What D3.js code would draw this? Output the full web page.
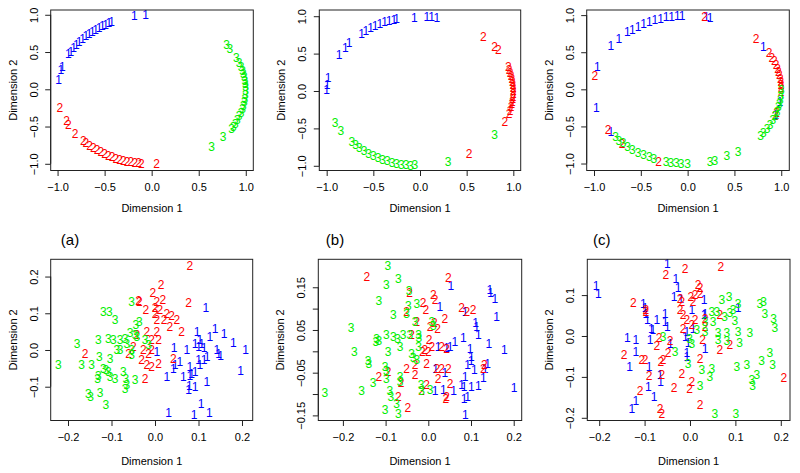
<!DOCTYPE html>
<html><head><meta charset="utf-8">
<script src="https://d3js.org/d3.v7.min.js"></script>
<style>body{margin:0;background:#fff}svg{display:block}text{font-family:"Liberation Sans",Arial,Helvetica,sans-serif}</style>
</head><body><svg id="c" width="800" height="473"></svg>
<script>
// ---------- data ----------
const classLabels = ["1","2","3"];
const classColors = ["#0000ff","#ff0000","#00ee00"];
const panelLetters = ["(a)","(b)","(c)"];
const topTicks = [-1,-0.5,0,0.5,1];
const bottomXTicks = [-0.2,-0.1,0,0.1,0.2];
const dYTicks = [-0.1,0,0.1,0.2];
const eYTicks = [-0.15,-0.10,-0.05,0,0.05,0.10,0.15];
const eYLabelled = [-0.15,-0.05,0.05,0.15];
const fYTicks = [-0.2,-0.1,0,0.1];

const a1 = [[-0.99,0.125],[-0.964,0.26],[-0.95,0.31],[-0.886,0.48],[-0.86,0.51],[-0.83,0.556],[-0.80,0.60],[-0.77,0.638],[-0.735,0.678],[-0.70,0.714],[-0.665,0.747],[-0.63,0.776],[-0.595,0.804],[-0.56,0.828],[-0.525,0.851],[-0.49,0.872],[-0.455,0.89],[-0.425,0.905],[-0.185,0.983],[-0.064,0.998]];
const a2 = [[-0.975,-0.25],[-0.904,-0.42],[-0.886,-0.47],[-0.815,-0.59],[-0.727,-0.69],[-0.70,-0.714],[-0.66,-0.751],[-0.62,-0.785],[-0.58,-0.815],[-0.54,-0.842],[-0.50,-0.866],[-0.46,-0.888],[-0.42,-0.908],[-0.38,-0.925],[-0.34,-0.94],[-0.30,-0.954],[-0.26,-0.966],[-0.22,-0.976],[-0.18,-0.984],[-0.14,-0.99],[-0.11,-0.994],[0.053,-0.999]];
const a3 = [[0.797,0.595],[0.83,0.54],[0.90,0.43],[0.93,0.36],[0.95,0.30],[0.965,0.25],[0.975,0.21],[0.985,0.17],[0.99,0.12],[0.995,0.08],[0.999,0.03],[0.999,-0.02],[0.995,-0.07],[0.99,-0.12],[0.985,-0.17],[0.975,-0.22],[0.965,-0.26],[0.95,-0.31],[0.93,-0.36],[0.91,-0.41],[0.89,-0.46],[0.867,-0.50],[0.85,-0.53],[0.76,-0.63],[0.638,-0.77]];

const b1 = [[-1.0,0.013],[-0.995,0.09],[-0.985,0.18],[-0.868,0.48],[-0.80,0.58],[-0.76,0.64],[-0.625,0.77],[-0.58,0.81],[-0.53,0.845],[-0.48,0.875],[-0.43,0.90],[-0.38,0.925],[-0.33,0.944],[-0.28,0.96],[-0.25,0.968],[-0.061,0.985],[0.072,0.99],[0.125,0.99],[0.18,0.98]];
const b2 = [[0.68,0.73],[0.80,0.59],[0.84,0.55],[0.946,0.33],[0.955,0.29],[0.965,0.25],[0.975,0.21],[0.985,0.17],[0.99,0.13],[0.995,0.09],[0.998,0.05],[0.999,0.01],[0.999,-0.03],[0.997,-0.07],[0.995,-0.10],[0.99,-0.14],[0.985,-0.17],[0.975,-0.21],[0.965,-0.26],[0.955,-0.30],[0.91,-0.41],[0.525,-0.84]];
const b3 = [[-0.91,-0.42],[-0.847,-0.53],[-0.73,-0.68],[-0.69,-0.72],[-0.65,-0.76],[-0.60,-0.80],[-0.55,-0.835],[-0.50,-0.865],[-0.45,-0.89],[-0.40,-0.915],[-0.35,-0.935],[-0.30,-0.953],[-0.25,-0.968],[-0.20,-0.98],[-0.15,-0.989],[-0.10,-0.995],[-0.054,-0.99],[0.30,-0.95],[0.80,-0.59]];

const c1 = [[-0.965,0.31],[-0.975,-0.243],[-0.82,0.59],[-0.735,0.68],[-0.645,0.776],[-0.59,0.81],[-0.53,0.85],[-0.47,0.88],[-0.41,0.91],[-0.35,0.937],[-0.29,0.957],[-0.23,0.973],[-0.17,0.985],[-0.11,0.994],[-0.06,0.998],[0.20,0.975],[0.24,0.97],[0.81,0.575],[-0.82,-0.57],[0.94,-0.34],[0.985,-0.17]];
const c2 = [[-0.99,0.18],[-0.85,-0.54],[-0.70,-0.737],[-0.31,-0.975],[0.18,0.98],[0.73,0.68],[0.87,0.49],[0.90,0.43],[0.925,0.38],[0.945,0.33],[0.96,0.28],[0.97,0.24],[0.98,0.20],[0.99,0.15],[0.995,0.10],[0.998,0.06],[0.999,0.02],[0.999,-0.03],[0.95,-0.32],[0.935,-0.36]];
const c3 = [[-0.77,-0.64],[-0.735,-0.69],[-0.69,-0.72],[-0.64,-0.77],[-0.59,-0.81],[-0.53,-0.85],[-0.47,-0.88],[-0.41,-0.91],[-0.36,-0.93],[-0.23,-0.973],[-0.18,-0.984],[-0.12,-0.993],[-0.07,-0.997],[0.0,-1.0],[0.24,-0.97],[0.29,-0.955],[0.42,-0.90],[0.54,-0.84],[0.78,-0.63],[0.81,-0.585],[0.85,-0.53],[0.88,-0.475],[0.91,-0.415],[0.935,-0.355],[0.955,-0.295],[0.97,-0.24],[0.98,-0.19],[0.99,-0.14],[0.995,-0.09],[1.0,-0.01]];

const d1 = [[0.117,0.116],[0.097,0.05],[0.138,0.059],[0.159,0.045],[0.126,0.035],[0.103,0.027],[0.092,0.018],[0.1,0.009],[0.113,0.007],[0.044,0.007],[0.073,0],[0.142,0],[0.146,-0.009],[0.151,-0.016],[0.18,0.02],[0.208,0],[0.057,-0.032],[0.046,-0.041],[0.042,-0.05],[0.027,-0.073],[0.065,-0.073],[0.08,-0.045],[0.084,-0.064],[0.092,-0.059],[0.08,-0.071],[0.1,-0.027],[0.103,-0.041],[0.113,-0.027],[0.12,-0.018],[0.119,-0.086],[0.197,-0.056],[0.079,-0.098],[0.077,-0.109],[0.092,-0.1],[0.106,-0.145],[0.031,-0.171],[0.09,-0.177],[0.125,-0.171],[0.004,-0.005],[0.107,0.018]];
const d2 = [[0.080,0.229],[0.014,0.177],[-0.005,0.156],[-0.038,0.134],[-0.036,0.131],[-0.021,0.109],[0.004,0.132],[0.018,0.136],[0.077,0.129],[0.0,0.116],[0.011,0.109],[0.027,0.1],[0.021,0.082],[0.038,0.093],[0.05,0.082],[0,0.1],[0.004,0.082],[0.034,0.064],[0.061,0.05],[-0.019,0.05],[-0.008,0.027],[0.008,0.027],[0.004,0.05],[-0.042,0.041],[-0.05,0.009],[-0.061,-0.009],[-0.027,0],[-0.031,-0.027],[-0.008,0],[-0.015,-0.009],[-0.008,-0.045],[-0.019,-0.041],[0.008,-0.036],[0.042,-0.023],[-0.023,-0.077],[-0.161,-0.011]];
const d3pts = [[-0.222,-0.041],[-0.179,0.016],[-0.169,-0.041],[-0.146,-0.041],[-0.13,0.027],[-0.128,-0.018],[-0.13,-0.071],[-0.132,-0.077],[-0.153,-0.12],[-0.148,-0.127],[-0.126,-0.116],[-0.113,-0.15],[-0.119,0.104],[-0.105,0.104],[-0.092,0.082],[-0.107,0.032],[-0.096,0.029],[-0.088,0],[-0.103,-0.023],[-0.119,-0.05],[-0.113,-0.054],[-0.107,-0.059],[-0.103,-0.073],[-0.092,-0.077],[-0.08,0.027],[-0.069,0.032],[-0.065,0.018],[-0.08,0.002],[-0.057,0.047],[-0.054,0.132],[-0.044,0.068],[-0.036,0.077],[-0.046,0.041],[-0.042,0.035],[-0.054,0],[-0.054,-0.014],[-0.073,-0.059],[-0.067,-0.077],[-0.065,-0.095],[-0.069,-0.104],[-0.046,-0.082],[-0.023,0.027],[-0.015,0.014]];

const e1 = [[0.053,0.153],[0.144,0.145],[0.146,0.137],[0.156,0.124],[0.027,0.105],[0.086,0.093],[0.16,0.081],[0.111,0.067],[0.113,0.058],[0.117,0.038],[0.082,0.033],[0.062,0.023],[0.051,0.011],[0.043,0.009],[0.023,0.011],[0.098,0.007],[0.142,0.017],[0.178,0.005],[0.101,-0.012],[0.1,-0.022],[0.092,-0.032],[0.108,-0.044],[0.139,-0.028],[0.133,-0.04],[0.129,-0.061],[0.117,-0.081],[0.101,-0.083],[0.084,-0.083],[0.086,-0.059],[0.078,-0.079],[0.039,-0.05],[0.017,-0.04],[0.016,-0.091],[0.035,-0.089],[0.059,-0.091],[0.084,-0.112],[0.092,-0.106],[0.201,-0.084],[0.087,-0.149]];
const e2 = [[-0.144,0.175],[0.047,0.173],[-0.044,0.137],[0.012,0.132],[0.016,0.12],[-0.012,0.114],[-0.006,0.098],[-0.051,0.093],[0.078,0.103],[0.09,0.094],[0.105,0.098],[0.039,0.077],[-0.027,0.069],[0.014,0.067],[0.004,0.058],[0.022,0.054],[-0.039,0.038],[0.002,0.028],[0.008,0.011],[-0.008,0.003],[-0.014,-0.001],[0,-0.001],[0.043,0.007],[0.031,0.011],[-0.004,-0.028],[-0.031,-0.032],[-0.051,-0.04],[0.02,-0.04],[0.031,-0.04],[0.047,-0.04],[-0.031,-0.055],[0.023,-0.063],[-0.064,-0.073],[-0.094,-0.048],[-0.116,-0.059],[-0.004,-0.079],[-0.016,-0.091],[0.051,-0.075],[0.043,-0.106],[0.041,-0.11],[-0.07,-0.106],[-0.048,-0.131],[0.131,-0.032],[0.129,-0.04]];
const e3 = [[-0.095,0.2],[-0.07,0.171],[-0.098,0.155],[-0.116,0.119],[-0.045,0.141],[-0.047,0.106],[-0.027,0.111],[-0.082,0.085],[-0.051,0.087],[-0.181,0.056],[-0.173,-0.001],[-0.141,-0.022],[-0.139,-0.028],[-0.121,0.03],[-0.123,0.023],[-0.116,0.026],[-0.098,0.038],[-0.094,-0.001],[-0.082,0.034],[-0.072,0.03],[-0.066,0.011],[-0.059,0.038],[-0.043,0.038],[-0.023,0.038],[-0.022,0.032],[-0.039,-0.005],[-0.035,-0.014],[-0.023,0.011],[-0.027,-0.02],[-0.031,0.069],[0.008,0.069],[0.012,0.061],[-0.101,-0.036],[-0.098,-0.045],[-0.098,-0.063],[-0.129,-0.073],[-0.156,-0.091],[-0.242,-0.097],[-0.066,-0.059],[-0.066,-0.071],[-0.09,-0.091],[-0.088,-0.106],[-0.101,-0.136],[-0.074,-0.123],[-0.07,-0.145],[-0.017,-0.079],[-0.016,-0.091],[0.004,-0.089]];

const f1 = [[-0.207,0.122],[-0.202,0.104],[-0.05,0.176],[-0.031,0.139],[-0.026,0.117],[-0.035,0.096],[-0.02,0.092],[0.031,0.088],[0.004,0.064],[0.031,0.051],[-0.103,0.08],[-0.099,0.068],[-0.097,0.055],[-0.094,0.039],[-0.073,0.039],[-0.085,0.019],[-0.082,0.015],[-0.088,-0.01],[-0.055,0.055],[-0.055,0.035],[-0.05,0.023],[-0.138,-0.003],[-0.119,-0.01],[-0.119,-0.038],[-0.133,-0.075],[-0.09,-0.075],[-0.066,-0.095],[-0.065,-0.112],[-0.092,-0.124],[-0.079,-0.148],[-0.119,-0.158],[-0.128,-0.177],[0.007,0.019],[-0.007,0.011],[-0.01,-0.002],[-0.004,-0.016],[-0.007,-0.042],[-0.007,-0.05],[0.033,-0.03],[0.033,0.055],[0.106,0.068],[-0.043,-0.018]];
const f2 = [[-0.011,0.165],[0.068,0.17],[-0.053,0.151],[0.018,0.125],[0.022,0.119],[0.002,0.096],[0.011,0.1],[0.022,0.103],[-0.022,0.092],[-0.018,0.084],[0.007,0.084],[-0.125,0.081],[-0.097,0.065],[-0.097,0.059],[-0.022,0.064],[-0.015,0.051],[-0.007,0.039],[0.004,0.027],[0.011,0.039],[0.033,0.043],[0.033,0.023],[0.066,0.051],[-0.015,0.019],[-0.068,-0.003],[-0.044,-0.011],[-0.048,-0.042],[-0.059,-0.059],[-0.064,-0.063],[-0.073,-0.024],[-0.099,-0.059],[-0.106,-0.059],[-0.145,-0.046],[0.028,-0.008],[0.066,-0.033],[0.088,-0.022],[0.022,-0.055],[-0.018,-0.093],[0.004,-0.112],[-0.001,-0.13],[-0.035,-0.126],[-0.09,-0.097],[-0.062,-0.095],[-0.11,-0.134],[-0.066,-0.177],[-0.062,-0.189],[0.022,-0.169],[0.207,-0.101]];
const f3 = [[0.07,0.088],[0.086,0.095],[0.106,0.08],[0.048,0.059],[0.059,0.059],[0.051,0.035],[0.033,0.035],[0.076,0.047],[0.088,0.057],[0.095,0.064],[0.099,0.037],[0.015,0.015],[0.033,0.011],[0.062,0.007],[0.062,-0.01],[0.081,0.007],[0.081,-0.011],[0.106,0.011],[0.109,-0.016],[0.132,0.007],[-0.001,-0.006],[0.004,-0.018],[-0.059,-0.002],[-0.033,-0.038],[-0.004,-0.067],[0.026,-0.083],[0.048,-0.079],[0.044,-0.099],[0.103,-0.075],[0.125,-0.071],[0.154,0.08],[0.162,0.084],[0.165,0.055],[0.184,0.043],[0.187,0.021],[0.176,-0.042],[0.158,-0.06],[0.182,-0.071],[0.147,-0.095],[0.136,-0.108],[0.138,-0.122],[0.022,-0.122],[0.055,-0.189],[0.101,-0.189]];

// ---------- layout ----------
const panels = [
  {box:[50.7,253.3,10,170.5], xd:[-1.073,1.080], yd:[-1.09,1.064], xt:topTicks, yt:topTicks, yl:topTicks, dec:1, tOff:37, series:[a1,a2,a3]},
  {box:[319.3,520.7,10,170.5], xd:[-1.079,1.079], yd:[-1.063,1.083], xt:topTicks, yt:topTicks, yl:topTicks, dec:1, tOff:37, series:[b1,b2,b3]},
  {box:[586.7,789.3,10,170.5], xd:[-1.078,1.086], yd:[-1.094,1.069], xt:topTicks, yt:topTicks, yl:topTicks, dec:1, tOff:37, series:[c1,c2,c3]},
  {box:[50.7,252.7,259.3,420.5], xd:[-0.2398,0.2246], yd:[-0.192,0.247], xt:bottomXTicks, yt:dYTicks, yl:dYTicks, dec:1, ydec:1, tOff:40.4, series:[d1,d2,d3pts]},
  {box:[318.3,521.7,259.3,420.5], xd:[-0.2576,0.2187], yd:[-0.162,0.2155], xt:bottomXTicks, yt:eYTicks, yl:eYLabelled, dec:1, ydec:2, tOff:40.4, series:[e1,e2,e3]},
  {box:[587.3,790,259.3,420.5], xd:[-0.2262,0.2203], yd:[-0.2066,0.1875], xt:bottomXTicks, yt:fYTicks, yl:fYTicks, dec:1, ydec:1, tOff:40.4, series:[f1,f2,f3]}
];
const fmt = (v,d) => { const s = Math.abs(v).toFixed(d); return (v < -1e-9 ? "\u2212" : "") + s; };
const svg = d3.select("#c");
const ink = "#222";
const tl = 5.5;

panels.forEach((p,i) => {
  const [x0,x1,y0,y1] = p.box;
  const x = d3.scaleLinear().domain(p.xd).range([x0,x1]);
  const y = d3.scaleLinear().domain(p.yd).range([y1,y0]);
  const g = svg.append("g");
  p.series.forEach((s,k) => {
    g.append("g").selectAll("text").data(s).join("text")
      .attr("x", d => x(d[0])).attr("y", d => y(d[1])).attr("dy","0.36em")
      .attr("text-anchor","middle").attr("font-size",12).attr("fill",classColors[k])
      .text(classLabels[k]);
  });
  g.append("rect").attr("x",x0).attr("y",y0).attr("width",x1-x0).attr("height",y1-y0)
    .attr("fill","none").attr("stroke",ink).attr("stroke-width",1);
  const xa = d3.axisBottom(x).tickValues(p.xt).tickSize(tl).tickSizeOuter(0).tickFormat(v => fmt(v,p.dec));
  const gx = g.append("g").attr("transform",`translate(0,${y1})`).call(xa);
  gx.select(".domain").attr("d",`M${x(p.xt[0])},0H${x(p.xt[p.xt.length-1])}`).attr("stroke",ink);
  gx.selectAll(".tick line").attr("stroke",ink);
  gx.selectAll(".tick text").attr("font-size",11).attr("fill","#000").attr("y",13).attr("dy","0.71em")
    .attr("font-family","Liberation Sans, Arial, sans-serif");
  const yd = p.ydec === undefined ? p.dec : p.ydec;
  const ya = d3.axisLeft(y).tickValues(p.yt).tickSize(tl).tickSizeOuter(0)
    .tickFormat(v => p.yl.some(u => Math.abs(u-v)<1e-9) ? fmt(v,yd) : "");
  const gy = g.append("g").attr("transform",`translate(${x0},0)`).call(ya);
  gy.select(".domain").attr("d",`M0,${y(p.yt[0])}V${y(p.yt[p.yt.length-1])}`).attr("stroke",ink);
  gy.selectAll(".tick line").attr("stroke",ink);
  gy.selectAll(".tick text").attr("font-size",11).attr("fill","#000")
    .attr("font-family","Liberation Sans, Arial, sans-serif")
    .attr("x",null).attr("dy",null).attr("text-anchor","middle")
    .attr("transform","translate(-13,0) rotate(-90)");
  g.append("text").attr("x",(x0+x1)/2).attr("y",y1+p.tOff+4).attr("text-anchor","middle").attr("font-size",11).text("Dimension 1");
  g.append("text").attr("transform",`translate(${x0-34},${(y0+y1)/2}) rotate(-90)`).attr("text-anchor","middle").attr("font-size",11).text("Dimension 2");
});

const letterX = [70,335,601.7];
svg.selectAll("text.lab").data(panelLetters).join("text").attr("class","lab")
  .attr("x",(d,i)=>letterX[i]).attr("y",245.4).attr("text-anchor","middle").attr("font-size",15).text(d=>d);
</script></body></html>
